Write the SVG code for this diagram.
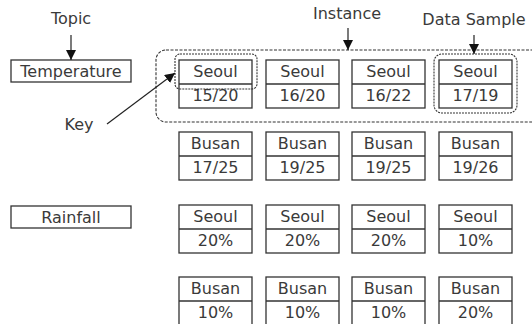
<svg xmlns="http://www.w3.org/2000/svg" width="532" height="324" viewBox="0 0 532 324">
  <style>
    text { font-family: "DejaVu Sans", Verdana, sans-serif; font-size: 16px; fill: #3a3a3a; text-anchor: middle; }
    .box { fill: #ffffff; stroke: #333333; stroke-width: 1.3; }
    .div { stroke: #333333; stroke-width: 1.3; }
    .conn { stroke: #222222; stroke-width: 1.2; fill: none; }
    .group { fill: none; stroke: #333333; stroke-width: 1.1; stroke-dasharray: 3 1.5; }
    .pick { fill: none; stroke: #333333; stroke-width: 1.1; stroke-dasharray: 2 1; }
  </style>
  <defs>
    <marker id="head" viewBox="0 0 10 10" refX="10" refY="5" markerWidth="10" markerHeight="10" markerUnits="userSpaceOnUse" orient="auto">
      <path d="M0,0 L10,5 L0,10 Z" fill="#111111"/>
    </marker>
    <!-- two-line record cell: city on top, value below -->
    <g id="cell">
      <rect class="box" x="0" y="0" width="73" height="48"/>
      <line class="div" x1="0" y1="24" x2="73" y2="24"/>
    </g>
  </defs>

  <rect width="532" height="324" fill="#ffffff"/>

  <!-- topics -->
  <g id="topic-temperature">
    <rect class="box" x="11" y="60" width="120" height="22"/>
    <text x="71" y="77">Temperature</text>
  </g>
  <g id="topic-rainfall">
    <rect class="box" x="11" y="206" width="120" height="22"/>
    <text x="71" y="223">Rainfall</text>
  </g>

  <!-- temperature records: Seoul -->
  <g id="t-seoul-1"><use href="#cell" x="179" y="60"/><text x="215.5" y="77">Seoul</text><text x="215.5" y="101">15/20</text></g>
  <g id="t-seoul-2"><use href="#cell" x="266" y="60"/><text x="302.5" y="77">Seoul</text><text x="302.5" y="101">16/20</text></g>
  <g id="t-seoul-3"><use href="#cell" x="352" y="60"/><text x="388.5" y="77">Seoul</text><text x="388.5" y="101">16/22</text></g>
  <g id="t-seoul-4"><use href="#cell" x="439" y="60"/><text x="475.5" y="77">Seoul</text><text x="475.5" y="101">17/19</text></g>

  <!-- temperature records: Busan -->
  <g id="t-busan-1"><use href="#cell" x="179" y="132"/><text x="215.5" y="149">Busan</text><text x="215.5" y="173">17/25</text></g>
  <g id="t-busan-2"><use href="#cell" x="266" y="132"/><text x="302.5" y="149">Busan</text><text x="302.5" y="173">19/25</text></g>
  <g id="t-busan-3"><use href="#cell" x="352" y="132"/><text x="388.5" y="149">Busan</text><text x="388.5" y="173">19/25</text></g>
  <g id="t-busan-4"><use href="#cell" x="439" y="132"/><text x="475.5" y="149">Busan</text><text x="475.5" y="173">19/26</text></g>

  <!-- rainfall records: Seoul -->
  <g id="r-seoul-1"><use href="#cell" x="179" y="205"/><text x="215.5" y="222">Seoul</text><text x="215.5" y="246">20%</text></g>
  <g id="r-seoul-2"><use href="#cell" x="266" y="205"/><text x="302.5" y="222">Seoul</text><text x="302.5" y="246">20%</text></g>
  <g id="r-seoul-3"><use href="#cell" x="352" y="205"/><text x="388.5" y="222">Seoul</text><text x="388.5" y="246">20%</text></g>
  <g id="r-seoul-4"><use href="#cell" x="439" y="205"/><text x="475.5" y="222">Seoul</text><text x="475.5" y="246">10%</text></g>

  <!-- rainfall records: Busan -->
  <g id="r-busan-1"><use href="#cell" x="179" y="277"/><text x="215.5" y="294">Busan</text><text x="215.5" y="318">10%</text></g>
  <g id="r-busan-2"><use href="#cell" x="266" y="277"/><text x="302.5" y="294">Busan</text><text x="302.5" y="318">10%</text></g>
  <g id="r-busan-3"><use href="#cell" x="352" y="277"/><text x="388.5" y="294">Busan</text><text x="388.5" y="318">10%</text></g>
  <g id="r-busan-4"><use href="#cell" x="439" y="277"/><text x="475.5" y="294">Busan</text><text x="475.5" y="318">20%</text></g>

  <!-- highlight outlines -->
  <g id="instance-outline"><rect class="group" x="156" y="50" width="400" height="72" rx="10"/></g>
  <g id="key-outline"><rect class="pick" x="175" y="54" width="82" height="35" rx="5"/></g>
  <g id="sample-outline"><rect class="pick" x="434" y="54" width="83" height="59" rx="8"/></g>

  <!-- labels -->
  <g id="label-topic"><text x="71" y="24">Topic</text></g>
  <g id="label-instance"><text x="347" y="18.5">Instance</text></g>
  <g id="label-sample"><text x="474" y="24.5">Data Sample</text></g>
  <g id="label-key"><text x="79" y="130">Key</text></g>

  <!-- connectors -->
  <g id="connectors">
    <line class="conn" x1="71" y1="35" x2="71" y2="60" marker-end="url(#head)"/>
    <line class="conn" x1="348" y1="28" x2="348" y2="50" marker-end="url(#head)"/>
    <line class="conn" x1="474" y1="35" x2="474" y2="54" marker-end="url(#head)"/>
    <line class="conn" x1="107" y1="124" x2="175" y2="73" marker-end="url(#head)"/>
  </g>
</svg>
